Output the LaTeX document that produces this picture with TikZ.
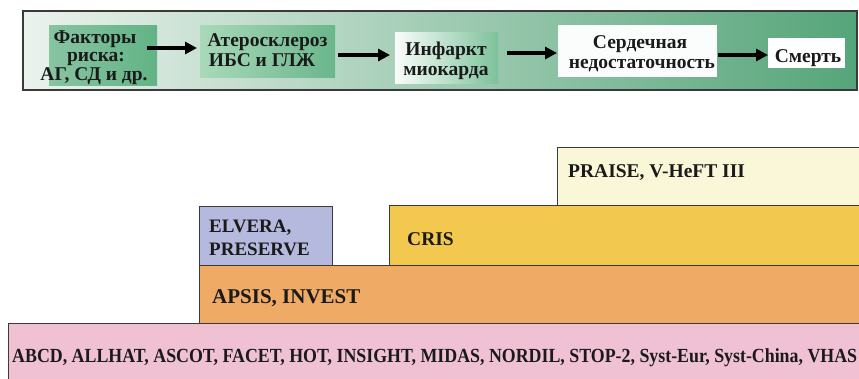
\documentclass[tikz,border=0pt]{standalone}
\usepackage{fontspec}
\setmainfont{Liberation Serif}
\usetikzlibrary{arrows.meta}

\definecolor{edge}{HTML}{3A3A3A}
\definecolor{ink}{HTML}{1A1A1A}
\definecolor{frameL}{HTML}{EBF2ED}
\definecolor{frameM}{HTML}{9CCFB0}
\definecolor{frameR}{HTML}{56A57A}
\definecolor{greenA}{HTML}{6AB68B}
\definecolor{greenB}{HTML}{A9D9BA}
\definecolor{greenC}{HTML}{62B386}
\definecolor{greenD}{HTML}{7CC29A}
\definecolor{pinkbar}{HTML}{EFC1D3}
\definecolor{apsis}{HTML}{EFAB66}
\definecolor{cris}{HTML}{F3C84E}
\definecolor{praise}{HTML}{FAF6D8}
\definecolor{elvera}{HTML}{B5B9DD}

\tikzset{
  bar/.style={draw=edge, line width=0.9pt, inner sep=0pt, outer sep=0pt, anchor=north west},
  stage/.style={draw=none, inner sep=0pt, outer sep=0pt, anchor=north west},
  toptext/.style={inner sep=0pt, anchor=base, text=ink, font=\fontsize{19.5}{19}\selectfont\bfseries},
  bartext/.style={inner sep=0pt, anchor=base west, text=ink, font=\fontsize{19.5}{19}\selectfont\bfseries},
  arr/.style={line width=3.6pt, draw=black, -{Triangle[length=12pt,width=12pt]}}
}

\begin{document}
\begin{tikzpicture}[x=1pt,y=-1pt]
\useasboundingbox (0,0) rectangle (859,378);
\clip (0,0) rectangle (859,378);
\fill[white] (0,0) rectangle (859,378);

% ---- disease continuum ----
\node[draw=edge, line width=1.2pt, inner sep=0pt, outer sep=0pt, anchor=north west,
      minimum width=834pt, minimum height=79pt,
      left color=frameL, middle color=frameM, right color=frameR] (chain) at (23,11) {};

\node[stage, minimum width=108pt, minimum height=60pt, left color=greenA!80!white, right color=greenC] (s1) at (49,25) {};
\node[stage, minimum width=135pt, minimum height=52pt, left color=greenB, right color=greenA] (s2) at (200,25) {};
\node[stage, minimum width=103pt, minimum height=51pt, left color=white!96!greenA, right color=greenD] (s3) at (395,32) {};
\node[stage, minimum width=159pt, minimum height=52pt, fill=white!97!greenA] (s4) at (558,25) {};
\node[stage, minimum width=77pt, minimum height=30pt, fill=white] (s5) at (768,38) {};

\node[toptext] (s1a) at (95,43) {Факторы};
\node[toptext] (s1b) at (96,61.5) {риска:};
\node[toptext] (s1c) at (94,80) {АГ, СД и др.};
\node[toptext] (s2a) at (267.5,46) {Атеросклероз};
\node[toptext] (s2b) at (262,66) {ИБС и ГЛЖ};
\node[toptext] (s3a) at (446,55) {Инфаркт};
\node[toptext] (s3b) at (446,75) {миокарда};
\node[toptext] (s4a) at (640,48) {Сердечная};
\node[toptext] (s4b) at (642,68) {недостаточность};
\node[toptext] (s5a) at (808,62) {Смерть};

\draw[arr] ([xshift=-10pt]s1.east |- 0,48) -- ([xshift=-3pt]s2.west |- 0,48);
\draw[arr] ([xshift=3pt]s2.east |- 0,55) -- ([xshift=-5pt]s3.west |- 0,55);
\draw[arr] ([xshift=9pt]s3.east |- 0,53) -- ([xshift=-1pt]s4.west |- 0,53);
\draw[arr] ([xshift=1pt]s4.east |- 0,55) -- (s5.west |- 0,55);

% ---- trial bars ----
\node[bar, minimum width=330pt, minimum height=58pt, fill=praise] (praise) at (557,147) {};
\node[bar, minimum width=500pt, minimum height=59.5pt, fill=cris] (cris) at (389,205.5) {};
\node[bar, minimum width=133pt, minimum height=59pt, fill=elvera] (elvera) at (199,206) {};
\node[bar, minimum width=690pt, minimum height=58pt, fill=apsis] (apsis) at (199,265) {};
\node[bar, minimum width=880pt, minimum height=80pt, fill=pinkbar] (allbar) at (8,323) {};

\node[bartext] (praiseT) at (568,177) {PRAISE, V-HeFT III};
\node[bartext] (crisT) at (407,245) {CRIS};
\node[bartext, font=\fontsize{19}{19}\selectfont\bfseries] (elveraT1) at (209,232) {ELVERA,};
\node[bartext, font=\fontsize{19}{19}\selectfont\bfseries] (elveraT2) at (209,255) {PRESERVE};
\node[bartext, font=\fontsize{21}{21}\selectfont\bfseries] (apsisT) at (212,303) {APSIS, INVEST};
\node[bartext] (allT) at (12,362) {\resizebox{845pt}{\height}{\fontsize{20}{20}\selectfont\bfseries ABCD, ALLHAT, ASCOT, FACET, HOT, INSIGHT, MIDAS, NORDIL, STOP-2, Syst-Eur, Syst-China, VHAS}};
\end{tikzpicture}
\end{document}
